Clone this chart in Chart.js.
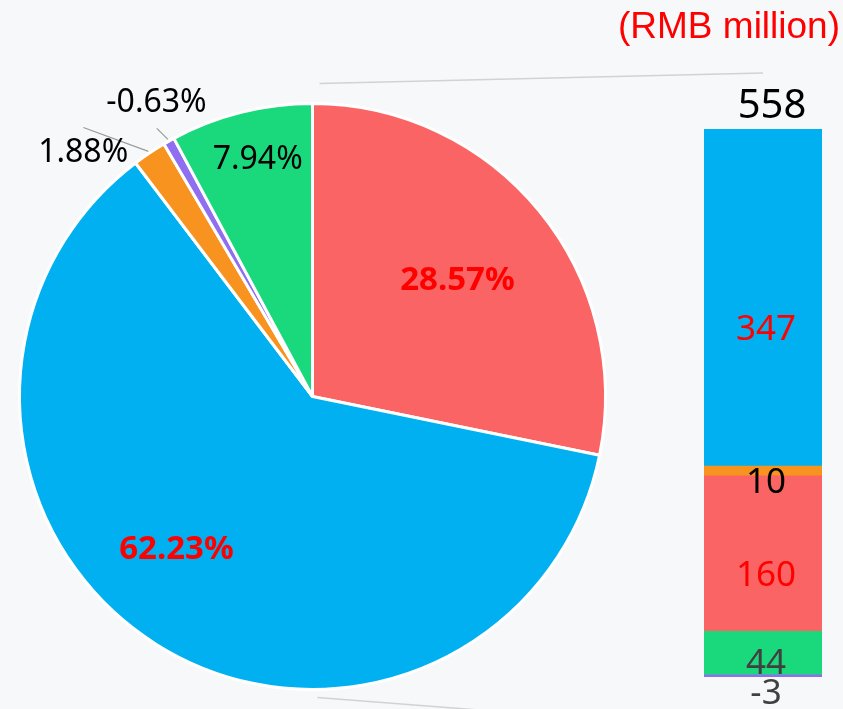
<!DOCTYPE html>
<html>
<head>
<meta charset="utf-8">
<script src="https://cdn.jsdelivr.net/npm/chart.js@4.4.1/dist/chart.umd.min.js"></script>
<style>
  html, body { margin: 0; padding: 0; background: #f7f8fa; }
  #wrap { position: relative; width: 843px; height: 709px; overflow: hidden; }
  #wrap canvas { position: absolute; left: 0; top: 0; }
</style>
</head>
<body>
<div id="wrap">
  <canvas id="pieChart" width="843" height="709"></canvas>
  <canvas id="barChart" width="843" height="709"></canvas>
</div>
<script>
// data, pie order (clockwise from 12 o'clock)
const categories = ['Part A', 'Part B', 'Part C', 'Part D', 'Part E'];
const shares = [28.57, 62.23, 1.88, 0.63, 7.94];
const shareLabels = ['28.57%', '62.23%', '1.88%', '-0.63%', '7.94%'];
const amounts = [160, 347, 10, -3, 44];
const totalAmount = 558;
const unitText = '(RMB million)';

// bar stacking order, bottom to top (indices into the arrays above)
const stackOrder = [4, 0, 2, 1, 3];

const colors = ['#fa6464', '#00b0f0', '#f7931e', '#8f6ff0', '#1ad97c'];

// label styling for the pie: radius factor and angle shift (degrees) from slice middle
const pieLabelStyle = [
  { r: 0.634, shift: 0.5, font: 'bold 33px "Noto Sans"', color: '#ff0000' },
  { r: 0.699, shift: 9.4, font: 'bold 33px "Noto Sans"', color: '#ff0000' },
  { r: 1.143, shift: -9.4, font: '32px "Noto Sans"', color: '#000', leader: { r: 1.206, shift: -6.6 } },
  { r: 1.136, shift: 1.4, font: '32px "Noto Sans"', color: '#000', leader: { r: 1.058, shift: -0.8 } },
  { r: 0.83, shift: 1.1, font: '32px "Noto Sans"', color: '#000' }
];

// label styling for the bar segments (same index as categories)
const barLabelStyle = [
  { dy: 22, color: '#ff0000' },
  { dy: 32, color: '#ff0000' },
  { dy: 12, color: '#000' },
  { dy: 18, color: '#404040' },
  { dy: 11, color: '#404040' }
];

const deg = Math.PI / 180;

const pieLabels = {
  id: 'pieLabels',
  afterDatasetsDraw(chart) {
    const ctx = chart.ctx;
    const arcs = chart.getDatasetMeta(0).data;
    ctx.save();
    ctx.textAlign = 'center';
    ctx.textBaseline = 'middle';
    arcs.forEach((arc, i) => {
      const p = arc.getProps(['x', 'y', 'startAngle', 'endAngle', 'outerRadius'], true);
      const st = pieLabelStyle[i];
      const mid = (p.startAngle + p.endAngle) / 2;
      if (st.leader) {
        const a2 = mid + st.leader.shift * deg;
        ctx.strokeStyle = '#9a9a9a';
        ctx.lineWidth = 1.2;
        ctx.beginPath();
        ctx.moveTo(p.x + Math.cos(mid) * (p.outerRadius + 2), p.y + Math.sin(mid) * (p.outerRadius + 2));
        ctx.lineTo(p.x + Math.cos(a2) * p.outerRadius * st.leader.r, p.y + Math.sin(a2) * p.outerRadius * st.leader.r);
        ctx.stroke();
      }
      const a = mid + st.shift * deg;
      ctx.font = st.font;
      ctx.fillStyle = st.color;
      ctx.fillText(shareLabels[i], p.x + Math.cos(a) * p.outerRadius * st.r, p.y + Math.sin(a) * p.outerRadius * st.r);
    });
    ctx.restore();
  }
};

new Chart(document.getElementById('pieChart'), {
  type: 'pie',
  data: {
    labels: categories,
    datasets: [{
      data: shares,
      backgroundColor: colors,
      borderColor: '#ffffff',
      borderWidth: 3,
      hoverOffset: 0
    }]
  },
  options: {
    responsive: false,
    animation: false,
    events: [],
    layout: { padding: { left: 18, top: 102, right: 236, bottom: 18 } },
    plugins: { legend: { display: false }, tooltip: { enabled: false } }
  },
  plugins: [pieLabels]
});

const barExtras = {
  id: 'barExtras',
  afterDatasetsDraw(chart) {
    const ctx = chart.ctx;
    const area = chart.chartArea;
    const cx = (area.left + area.right) / 2;
    const pie = Chart.getChart('pieChart');
    const pieArc = pie.getDatasetMeta(0).data[0];
    const pieX = pieArc.x, pieY = pieArc.y, pieR = pieArc.outerRadius;
    ctx.save();

    // connector lines between pie and bar
    ctx.strokeStyle = '#d2d2d4';
    ctx.lineWidth = 1.5;
    ctx.beginPath();
    ctx.moveTo(pieX + 7, pieY - pieR - 20);
    ctx.lineTo(cx, area.top - 56);
    ctx.moveTo(pieX + 5, pieY + pieR + 8);
    ctx.lineTo(cx, area.bottom + 55);
    ctx.stroke();

    ctx.textAlign = 'center';
    ctx.textBaseline = 'middle';
    chart.data.datasets.forEach((ds, d) => {
      const bar = chart.getDatasetMeta(d).data[0];
      const i = stackOrder[d];
      const st = barLabelStyle[i];
      ctx.font = '35px "Noto Sans"';
      ctx.fillStyle = st.color;
      ctx.fillText(String(amounts[i]), cx + 3, (bar.y + bar.base) / 2 + st.dy);
    });

    ctx.font = '40px "Noto Sans"';
    ctx.fillStyle = '#000';
    ctx.fillText(String(totalAmount), cx + 9, area.top - 22);

    ctx.font = '37px "Liberation Sans"';
    ctx.fillStyle = '#ff0000';
    ctx.textAlign = 'right';
    ctx.fillText(unitText, chart.width - 3, 28);
    ctx.restore();
  }
};

const positiveSum = amounts.filter(v => v > 0).reduce((a, b) => a + b, 0);
const negativeSum = amounts.filter(v => v < 0).reduce((a, b) => a + b, 0);

new Chart(document.getElementById('barChart'), {
  type: 'bar',
  data: {
    labels: ['Total'],
    datasets: stackOrder.map(i => ({
      label: categories[i],
      data: [amounts[i]],
      backgroundColor: colors[i],
      borderWidth: 0,
      categoryPercentage: 1,
      barPercentage: 1
    }))
  },
  options: {
    responsive: false,
    animation: false,
    events: [],
    layout: { padding: { left: 704, top: 129, right: 21, bottom: 32 } },
    scales: {
      x: { stacked: true, display: false },
      y: { stacked: true, display: false, min: negativeSum, max: positiveSum }
    },
    plugins: { legend: { display: false }, tooltip: { enabled: false } }
  },
  plugins: [barExtras]
});
</script>
</body>
</html>
